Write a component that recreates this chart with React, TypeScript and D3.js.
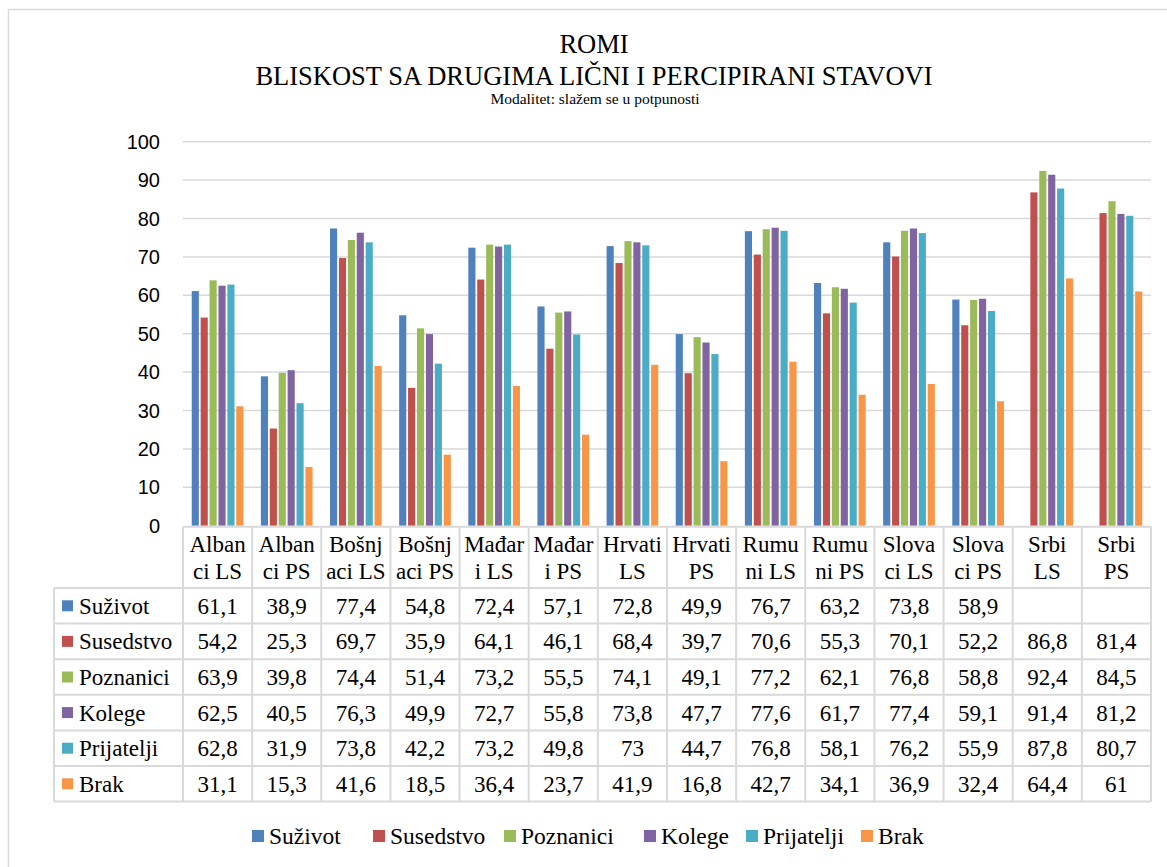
import * as d3 from "d3";

const categories = [
  "Albanci LS", "Albanci PS", "Bošnjaci LS", "Bošnjaci PS", "Mađari LS", "Mađari PS",
  "Hrvati LS", "Hrvati PS", "Rumuni LS", "Rumuni PS", "Slovaci LS", "Slovaci PS",
  "Srbi LS", "Srbi PS",
];
// how the header cells wrap in the data table
const headerLines = [
  ["Alban", "ci LS"], ["Alban", "ci PS"], ["Bošnj", "aci LS"], ["Bošnj", "aci PS"],
  ["Mađar", "i LS"], ["Mađar", "i PS"], ["Hrvati", "LS"], ["Hrvati", "PS"],
  ["Rumu", "ni LS"], ["Rumu", "ni PS"], ["Slova", "ci LS"], ["Slova", "ci PS"],
  ["Srbi", "LS"], ["Srbi", "PS"],
];

const seriesNames = ["Suživot", "Susedstvo", "Poznanici", "Kolege", "Prijatelji", "Brak"];
const seriesColors = ["#4F81BD", "#C0504D", "#9BBB59", "#8064A2", "#4BACC6", "#F79646"];

const suzivot = [61.1, 38.9, 77.4, 54.8, 72.4, 57.1, 72.8, 49.9, 76.7, 63.2, 73.8, 58.9, null, null];
const susedstvo = [54.2, 25.3, 69.7, 35.9, 64.1, 46.1, 68.4, 39.7, 70.6, 55.3, 70.1, 52.2, 86.8, 81.4];
const poznanici = [63.9, 39.8, 74.4, 51.4, 73.2, 55.5, 74.1, 49.1, 77.2, 62.1, 76.8, 58.8, 92.4, 84.5];
const kolege = [62.5, 40.5, 76.3, 49.9, 72.7, 55.8, 73.8, 47.7, 77.6, 61.7, 77.4, 59.1, 91.4, 81.2];
const prijatelji = [62.8, 31.9, 73.8, 42.2, 73.2, 49.8, 73, 44.7, 76.8, 58.1, 76.2, 55.9, 87.8, 80.7];
const brak = [31.1, 15.3, 41.6, 18.5, 36.4, 23.7, 41.9, 16.8, 42.7, 34.1, 36.9, 32.4, 64.4, 61];

const seriesValues: (number | null)[][] = [suzivot, susedstvo, poznanici, kolege, prijatelji, brak];

const yTicks = [0, 10, 20, 30, 40, 50, 60, 70, 80, 90, 100];

const W = 1167;
const H = 867;
const plot = { left: 183, right: 1151, top: 141.7, bottom: 525.7 };
const tableLeft = 54;
const headerBottom = 588;
const rowH = 35.6;

const serif = '"Liberation Serif", "DejaVu Serif", serif';
const sans = '"Liberation Sans", Arial, sans-serif';
const gridColor = "#d9d9d9";

const fmt = (v: number | null) => (v == null ? "" : String(v).replace(".", ","));

export default function App() {
  const x0 = d3.scaleBand<string>().domain(categories).range([plot.left, plot.right]);
  const x1 = d3
    .scaleBand<string>()
    .domain(seriesNames)
    .range([0, x0.bandwidth()])
    .paddingInner(0.2)
    .paddingOuter(0.98);
  const y = d3.scaleLinear().domain([0, 100]).range([plot.bottom, plot.top]);

  const colEdges = categories.map((c) => x0(c)!).concat([plot.right]);
  const rowEdges = d3.range(seriesNames.length + 1).map((i) => headerBottom + i * rowH);

  // bottom legend layout
  const legendX = [252, 373, 504, 644, 746, 861];
  const serifStyle = { fontFamily: serif };

  return (
    <svg
      width={W}
      height={H}
      style={{ position: "absolute", left: 0, top: 0, background: "#fff" }}
    >
      <rect x={8.5} y={9.5} width={W + 20} height={H + 20} fill="#fff" stroke={gridColor} strokeWidth={1.5} />

      {/* titles */}
      <text x={594} y={53} textAnchor="middle" style={serifStyle} fontSize={26.5}>ROMI</text>
      <text x={594} y={85} textAnchor="middle" style={serifStyle} fontSize={26.5}>
        BLISKOST SA DRUGIMA LIČNI I PERCIPIRANI STAVOVI
      </text>
      <text x={595} y={104} textAnchor="middle" style={serifStyle} fontSize={15.5}>
        Modalitet: slažem se u potpunosti
      </text>

      {/* gridlines + y labels */}
      {yTicks.map((t) => (
        <g key={t}>
          {t > 0 && (
            <line x1={plot.left} x2={plot.right} y1={y(t)} y2={y(t)} stroke={gridColor} strokeWidth={1.5} />
          )}
          <text x={160} y={y(t)} dy="0.35em" textAnchor="end" style={{ fontFamily: sans }} fontSize={20} fill="#000">
            {t}
          </text>
        </g>
      ))}

      {/* bars */}
      {categories.map((c, ci) => (
        <g key={c} transform={`translate(${x0(c)},0)`}>
          {seriesNames.map((s, si) => {
            const v = seriesValues[si][ci];
            if (v == null) return null;
            return (
              <rect
                key={s}
                x={x1(s)}
                y={y(v)}
                width={x1.bandwidth()}
                height={y(0) - y(v)}
                fill={seriesColors[si]}
              />
            );
          })}
        </g>
      ))}

      {/* data table grid */}
      <line x1={plot.left} x2={plot.right} y1={plot.bottom + 1} y2={plot.bottom + 1} stroke={gridColor} strokeWidth={2} />
      {rowEdges.map((ry, i) => (
        <line key={"h" + i} x1={tableLeft} x2={plot.right} y1={ry} y2={ry} stroke={gridColor} strokeWidth={2} />
      ))}
      <line x1={tableLeft} x2={tableLeft} y1={headerBottom} y2={rowEdges[rowEdges.length - 1]} stroke={gridColor} strokeWidth={2} />
      {colEdges.map((cx, i) => (
        <line key={"v" + i} x1={cx} x2={cx} y1={plot.bottom + 1} y2={rowEdges[rowEdges.length - 1]} stroke={gridColor} strokeWidth={2} />
      ))}

      {/* header cells */}
      {categories.map((c, ci) => (
        <text key={c} textAnchor="middle" style={serifStyle} fontSize={23}>
          <tspan x={x0(c)! + x0.bandwidth() / 2} y={552}>{headerLines[ci][0]}</tspan>
          <tspan x={x0(c)! + x0.bandwidth() / 2} y={579}>{headerLines[ci][1]}</tspan>
        </text>
      ))}

      {/* rows */}
      {seriesNames.map((s, si) => {
        const cy = rowEdges[si] + rowH / 2;
        return (
          <g key={s} style={serifStyle}>
            <rect x={62} y={cy - 5.5} width={11} height={11} fill={seriesColors[si]} />
            <text x={79} y={cy} dy="0.35em" fontSize={23}>{s}</text>
            {categories.map((c, ci) => (
              <text
                key={c}
                x={x0(c)! + x0.bandwidth() / 2}
                y={cy}
                dy="0.35em"
                textAnchor="middle"
                fontSize={23}
              >
                {fmt(seriesValues[si][ci])}
              </text>
            ))}
          </g>
        );
      })}

      {/* legend */}
      {seriesNames.map((s, si) => (
        <g key={s} style={serifStyle}>
          <rect x={legendX[si]} y={830} width={12} height={12} fill={seriesColors[si]} />
          <text x={legendX[si] + 17} y={836} dy="0.35em" fontSize={23.5}>{s}</text>
        </g>
      ))}
    </svg>
  );
}
